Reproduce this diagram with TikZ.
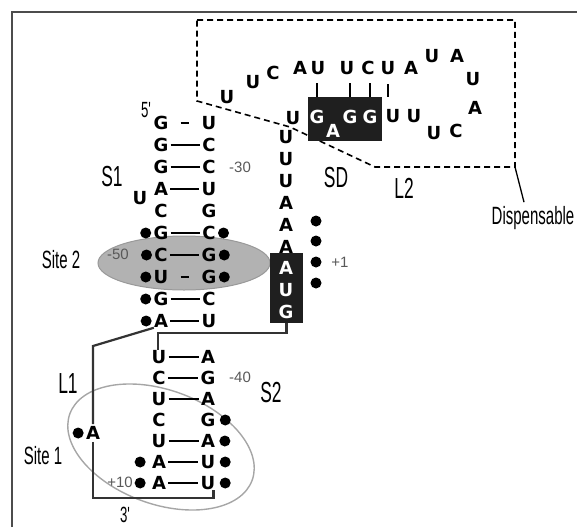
\documentclass[tikz,border=0pt]{standalone}
\usepackage{fontspec}
\setmainfont{Liberation Sans}
\newfontfamily\condfont[FakeStretch=0.6]{Liberation Sans}
\newfontfamily\ntfont{DejaVu Sans}
\usetikzlibrary{positioning}

\tikzset{
  nt/.style={font=\ntfont\bfseries\fontsize{18}{18}\selectfont, inner sep=0pt},
  ntw/.style={nt, text=white},
  dot/.style={circle, fill=black, inner sep=0pt, minimum size=11pt},
  bond/.style={line width=1.8pt, shorten <=2pt, shorten >=2pt},
  shortbond/.style={line width=1.8pt, shorten <=12pt, shorten >=12pt},
  tick/.style={line width=1.3pt},
  strand/.style={line width=2.2pt, draw=black!80},
  lab/.style={font=\condfont\fontsize{29}{29}\selectfont, inner sep=0pt},
  sitelab/.style={font=\condfont\fontsize{25}{25}\selectfont, inner sep=0pt},
  endlab/.style={font=\condfont\fontsize{22}{22}\selectfont, inner sep=0pt},
  num/.style={font=\fontsize{15}{15}\selectfont, text=black!65, inner sep=0pt},
  sdbox/.style={fill=black!88, inner sep=0pt},
}

\begin{document}
\begin{tikzpicture}[x=1pt,y=-1pt]
\useasboundingbox (0,0) rectangle (577,527);
% frame
\draw[line width=1.5pt, black!70] (12,527) -- (12,12) -- (577,12);

% site 2 and site 1
\draw[fill=black!30, draw=black!40, line width=1pt] (184,263) ellipse [x radius=86, y radius=27];
\draw[line width=1.4pt, black!35, rotate around={-20:(161,447)}] (161,447) ellipse [x radius=97, y radius=57];

% dispensable region
\draw[line width=1.6pt, dash pattern=on 6pt off 4pt]
  (197,20) -- (515,20) -- (515,167) -- (375,167) -- (290,127) -- (197,101) -- cycle;
\coordinate (l2c) at (515,167);

% stem S1
\foreach \y/\a/\b [count=\i] in {123/G/U, 145/G/C, 167/G/C, 189/A/U, 211/C/G,
    233/G/C, 255/C/G, 277/U/G, 299/G/C, 321/A/U}{
  \node[nt] (l\i) at (161,\y) {\a};
  \node[nt] (r\i) at (209,\y) {\b};
}
% stem S2
\foreach \y/\a/\b [count=\i from 11] in {357/U/A, 378/C/G, 399/U/A, 420/C/G,
    441/U/A, 462/A/U, 483/A/U}{
  \node[nt] (l\i) at (159,\y) {\a};
  \node[nt] (r\i) at (208,\y) {\b};
}
\foreach \i in {2,3,4,6,7,9,10,11,12,13,15,16,17}
  \draw[bond] (l\i) -- (r\i);
\foreach \i in {1,8}
  \draw[shortbond] (l\i) -- (r\i);
\node[nt] (u1) at (140,198) {U};

% protected bases
\foreach \i in {6,7,8,9,10}
  \node[dot, left=2pt of l\i] (dl\i) {};
\foreach \i in {6,7,8}
  \node[dot, right=2pt of r\i] (dr\i) {};
\foreach \i in {16,17}
  \node[dot, left=6pt of l\i] (dl\i) {};
\foreach \i in {14,15,16,17}
  \node[dot, right=4pt of r\i] (dr\i) {};

% column down to AUG
\foreach \y/\a [count=\i] in {137/U, 159/U, 181/U, 203/A, 225/A, 247/A}
  \node[nt] (c\i) at (286,\y) {\a};
\node[sdbox, minimum width=33pt, minimum height=70pt] (aug) at (286.5,288) {};
\foreach \y/\a [count=\i from 7] in {268/A, 290/U, 312/G}
  \node[ntw] (c\i) at (286,\y) {\a};
\foreach \y [count=\i] in {221,241,262,283}
  \node[dot] (cd\i) at (316,\y) {};

% SD and loop L2
\node[sdbox, minimum width=74pt, minimum height=44pt] (sd) at (345,119) {};
\node[nt] (b1) at (293,118) {U};
\node[ntw] (b2) at (317,117) {G};
\node[ntw] (b3) at (333,131) {A};
\node[ntw] (b4) at (350,117) {G};
\node[ntw] (b5) at (370,117) {G};
\foreach \x/\y/\a [count=\i from 6] in {393/116/U, 414/116/U, 434/133/U, 456/131/C}
  \node[nt] (b\i) at (\x,\y) {\a};
\foreach \x/\y/\a [count=\i] in {227/97/U, 253/82/U, 273/73/C, 300/68/A, 318/68/U,
    347/68/U, 368/68/C, 388/68/U, 411/68/A, 432/56/U, 457/56/A, 473/79/U, 475/108/A}
  \node[nt] (t\i) at (\x,\y) {\a};
\foreach \n in {b2,b4,b5}
  \draw[tick] (\n |- sd.north) -- ++(0,-14);
\draw[tick] (t8 |- sd.north) -- ++(0,-13);

% backbone lines
\draw[strand] (aug.south) -- ++(0,10) -| ([xshift=-1pt]l11.north);
\coordinate (k1) at (93,346);
\coordinate (k2) at (93,498);
\node[nt] (a1) at (93,433) {A};
\node[dot, left=2pt of a1] (da1) {};
\draw[strand] (l10.south west) -- (k1) -- ([yshift=2pt]a1.north);
\draw[strand] ([yshift=-2pt]a1.south) -- (k2) -| ([xshift=-2pt]r17.south east);

% labels
\node[lab] (s1lab) at (112,177) {S1};
\node[lab] (s2lab) at (271,393) {S2};
\node[lab] (l1lab) at (68,384) {L1};
\node[lab] (l2lab) at (404,188) {L2};
\node[lab] (sdlab) at (336,178) {SD};
\node[sitelab] (site2) at (61,260) {Site 2};
\node[sitelab] (site1) at (43,456) {Site 1};
\node[sitelab] (disp) at (533,218) {Dispensable};
\draw[tick] (l2c) -- ([xshift=-9pt,yshift=4pt]disp.north);
\node[endlab] (p5) at (146,110) {5'};
\node[endlab] (p3) at (125,515) {3'};
\node[num] (n30) at (240,167) {-30};
\node[num] (n50) at (118,254) {-50};
\node[num] (n40) at (240,377) {-40};
\node[num] (n10) at (120,482) {+10};
\node[num] (n1) at (340,262) {+1};
\end{tikzpicture}
\end{document}
